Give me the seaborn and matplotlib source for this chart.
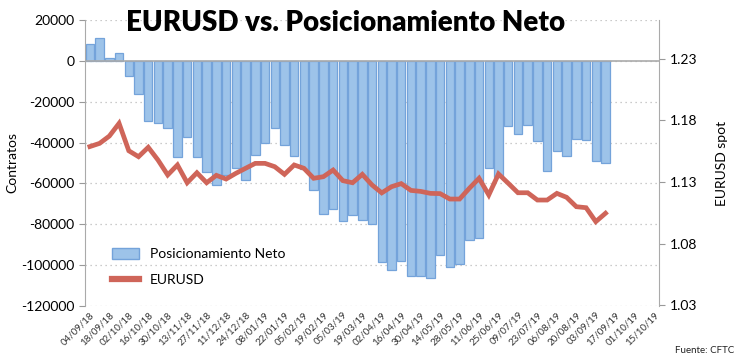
import numpy as np
import pandas as pd
import matplotlib
matplotlib.use("Agg")
import matplotlib.pyplot as plt
from matplotlib.patches import Patch
from matplotlib.lines import Line2D
import seaborn as sb

# posicionamiento neto semanal (contratos), desde 04/09/18
neto = [8200, 11400, 1600, 3700, -7400, -16200, -29300, -30300, -32700, -46900,
        -37100, -46900, -54600, -60800, -55900, -52600, -58300, -46200, -40400, -32700,
        -41200, -46500, -53000, -63400, -74800, -72300, -78500, -75700, -77900, -80000,
        -98600, -102400, -97800, -105400, -105200, -106200, -95100, -100800, -99500, -87700,
        -86700, -52500, -57000, -31800, -35700, -31400, -39200, -53900, -44100, -46400,
        -38200, -38700, -48900, -50000]

# EURUSD spot
eurusd = [1.1587, 1.1613, 1.1672, 1.1775, 1.1553, 1.1505, 1.1581, 1.1478, 1.1357, 1.1438,
          1.1294, 1.1375, 1.1294, 1.1354, 1.1324, 1.1370, 1.1411, 1.1451, 1.1451, 1.1424,
          1.1362, 1.1438, 1.1411, 1.1330, 1.1343, 1.1397, 1.1311, 1.1294, 1.1362, 1.1276,
          1.1212, 1.1262, 1.1287, 1.1232, 1.1224, 1.1208, 1.1206, 1.1162, 1.1162, 1.1249,
          1.1330, 1.1195, 1.1365, 1.1290, 1.1213, 1.1213, 1.1154, 1.1154, 1.1208, 1.1176,
          1.1100, 1.1092, 1.0979, 1.1047]

fechas = ["04/09/18", "18/09/18", "02/10/18", "16/10/18", "30/10/18", "13/11/18",
          "27/11/18", "11/12/18", "24/12/18", "08/01/19", "22/01/19", "05/02/19",
          "19/02/19", "05/03/19", "19/03/19", "02/04/19", "16/04/19", "30/04/19",
          "14/05/19", "28/05/19", "11/06/19", "25/06/19", "09/07/19", "23/07/19",
          "06/08/19", "20/08/19", "03/09/19", "17/09/19", "01/10/19", "15/10/19"]

data = pd.DataFrame({"semana": np.arange(len(neto)), "neto": neto, "eurusd": eurusd})

plt.rcParams["font.family"] = ["Lato", "DejaVu Sans"]

fig = plt.figure(figsize=(7.38, 3.61), dpi=100)
ax = fig.add_axes([0.1152, 0.1524, 0.7778, 0.7922])

sb.barplot(data=data, x="semana", y="neto", native_scale=True, width=0.87,
           color="#9dc3e9", edgecolor="#74a3da", linewidth=0.9, saturation=1, ax=ax)

ax.set_xlim(-0.5, 58.5)
ax.set_ylim(-120000, 20000)
ax.set_yticks(np.arange(-120000, 20001, 20000))
ax.set_yticklabels([str(v) for v in range(-120000, 20001, 20000)], fontsize=10)
ax.set_xticks(np.arange(0, 59, 2))
ax.set_xticklabels(fechas, rotation=45, ha="right", rotation_mode="anchor",
                   fontsize=7, color="#333333")
ax.tick_params(axis="x", length=0, pad=3)
ax.tick_params(axis="y", length=4, color="#999999", direction="out")
ax.set_xlabel("")
ax.set_ylabel("Contratos", fontsize=10, labelpad=2)
ax.grid(axis="y", color="#bbbbbb", linestyle=(0, (1, 3)), linewidth=0.9)
ax.set_axisbelow(True)
ax.axhline(0, color="#aaaaaa", linewidth=1.2, zorder=1.5)
for s in ["top", "bottom"]:
    ax.spines[s].set_visible(False)
ax.spines["left"].set_color("#aaaaaa")
ax.spines["right"].set_visible(False)

ax2 = ax.twinx()
sb.lineplot(data=data, x="semana", y="eurusd", color="#cf6559", linewidth=3.4,
            solid_joinstyle="miter", ax=ax2)
ax2.set_ylim(1.0296, 1.2612)
ax2.set_yticks([1.03, 1.08, 1.13, 1.18, 1.23])
ax2.set_yticklabels(["1.03", "1.08", "1.13", "1.18", "1.23"], fontsize=10)
ax2.tick_params(axis="y", length=4, color="#999999", direction="out")
ax2.set_ylabel("EURUSD spot", fontsize=10, rotation=90, labelpad=14)
ax2.set_xlabel("")
for s in ["top", "bottom", "left"]:
    ax2.spines[s].set_visible(False)
ax2.spines["right"].set_color("#aaaaaa")

handles = [Patch(facecolor="#9dc3e9", edgecolor="#74a3da", label="Posicionamiento Neto"),
           Line2D([0], [0], color="#cf6559", linewidth=4.5, label="EURUSD")]
ax.legend(handles=handles, loc="lower left", bbox_to_anchor=(0.026, 0.025),
          frameon=False, fontsize=10, handlelength=1.9, handleheight=0.8,
          labelspacing=1.0, handletextpad=0.8)

fig.text(0.468, 0.935, "EURUSD vs. Posicionamiento Neto", ha="center", va="center",
         fontsize=20, fontweight="heavy")
fig.text(0.995, 0.03, "Fuente: CFTC", ha="right", va="center", fontsize=7, color="#222222")

fig.savefig("out.png", dpi=100)
